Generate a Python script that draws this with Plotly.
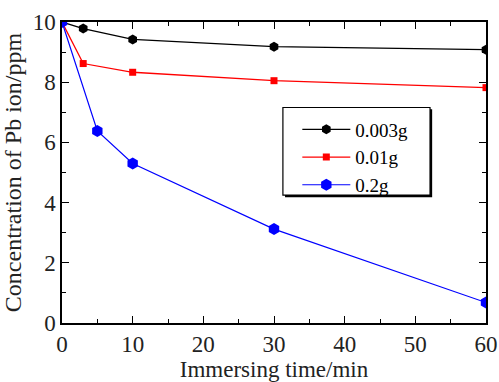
import plotly.graph_objects as go

t_003 = [0, 3, 10, 30, 60]
c_003 = [10.0, 9.78, 9.42, 9.18, 9.08]
t_001 = [0, 3, 10, 30, 60]
c_001 = [10.0, 8.62, 8.33, 8.05, 7.82]
t_02 = [0, 5, 10, 30, 60]
c_02 = [10.0, 6.38, 5.30, 3.12, 0.68]

font = "Liberation Serif, Times New Roman, serif"
tc = "#222"

fig = go.Figure()
fig.add_trace(go.Scatter(x=t_003, y=c_003, name="0.003g", mode="lines+markers",
                         line=dict(color="black", width=1.3),
                         marker=dict(symbol="hexagon", size=10, color="black")))
fig.add_trace(go.Scatter(x=t_001, y=c_001, name="0.01g", mode="lines+markers",
                         line=dict(color="red", width=1.3),
                         marker=dict(symbol="square", size=7, color="red")))
fig.add_trace(go.Scatter(x=t_02, y=c_02, name="0.2g", mode="lines+markers",
                         line=dict(color="blue", width=1.2),
                         marker=dict(symbol="hexagon", size=12, color="blue")))

axis_common = dict(showline=True, linecolor="black", linewidth=1.5, mirror="ticks",
                   ticks="inside", ticklen=7, tickwidth=1.3, tickcolor="black",
                   showgrid=False, zeroline=False, automargin=False,
                   tickfont=dict(family=font, size=23, color=tc))

fig.update_xaxes(range=[0, 60], dtick=10,
                 minor=dict(dtick=5, ticks="inside", ticklen=4, tickcolor="black"),
                 title=dict(text="Immersing time/min", font=dict(family=font, size=23, color=tc)),
                 **axis_common)
fig.update_yaxes(range=[0, 10], dtick=2,
                 minor=dict(dtick=1, ticks="inside", ticklen=4, tickcolor="black"),
                 title=dict(text="Concentration of Pb ion/ppm", font=dict(family=font, size=24, color=tc)),
                 **axis_common)

# legend frame with drop shadow
fig.add_shape(type="rect", xref="paper", yref="paper",
              x0=0.526, x1=0.873, y0=0.418, y1=0.710,
              fillcolor="black", line=dict(width=0), layer="above")
fig.add_shape(type="rect", xref="paper", yref="paper",
              x0=0.521, x1=0.868, y0=0.425, y1=0.716,
              fillcolor="white", line=dict(color="black", width=1.2), layer="above")

fig.update_layout(
    width=499, height=382,
    margin=dict(l=62, r=13, t=22, b=59),
    plot_bgcolor="white", paper_bgcolor="white",
    showlegend=True,
    legend=dict(x=0.555, y=0.706, xanchor="left", yanchor="top",
                bgcolor="rgba(0,0,0,0)", borderwidth=0,
                font=dict(family=font, size=19, color="black"),
                tracegroupgap=0, itemwidth=48),
)

fig.write_html("out.html")
